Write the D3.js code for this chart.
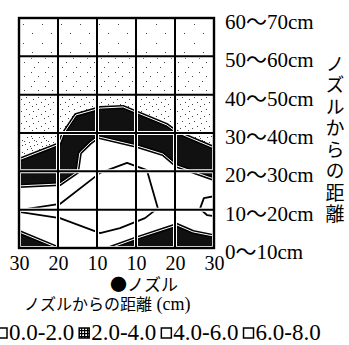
<!DOCTYPE html>
<html><head><meta charset="utf-8">
<script src="https://cdn.jsdelivr.net/npm/d3@7"></script>
<style>
html,body{margin:0;padding:0;background:#fff;}
svg{display:block;}
</style></head><body>
<svg id="chart" width="349" height="345"></svg>
<script>
// axis tick labels
const xTickLabels = ["30", "20", "10", "10", "20", "30"];
const yTickLabels = ["0～10cm", "10～20cm", "20～30cm", "30～40cm", "40～50cm", "50～60cm", "60～70cm"];
const legendLabels = ["0.0-2.0", "2.0-4.0", "4.0-6.0", "6.0-8.0"];
const nozzleLabel = "●ノズル";
const xTitle = "ノズルからの距離";
const xTitleUnit = " (cm)";
const yTitle = "ノズルからの距離";

// contour boundaries as [column, row] in grid units
const band24Top = [[0, 2.30], [1.03, 2.71], [1.13, 2.97], [1.46, 3.47], [2.08, 3.65], [2.67, 3.68], [3.10, 3.50], [3.79, 3.21], [4.03, 3.03], [5, 2.61]];
const band24Bottom = [[5, 1.80], [4.05, 2.14], [3.69, 2.45], [3.03, 2.66], [2.03, 2.90], [1.82, 2.74], [1.56, 2.48], [1.49, 1.98], [1.05, 1.67], [0, 1.62]];
const core68 = [[0, 0.99], [1.05, 1.15], [2.08, 1.96], [2.77, 2.22], [3.28, 2.03], [3.56, 1.04], [3.23, 0.78], [2.59, 0.52], [2.08, 0.39], [1.05, 0.78], [0, 0.94]];
const edge68 = [[5, 1.35], [4.74, 1.30], [4.64, 1.02], [4.82, 0.86], [5, 0.83]];
const floor24Left = [[0, 0.42], [1.0, 0], [0, 0]];
const floor24Right = [[2.33, 0], [3.03, 0.26], [4.05, 0.60], [4.46, 0.42], [5, 0.31], [5, 0]];

const svg = d3.select("#chart");
const serif = "'Liberation Serif','Times New Roman','Noto Sans CJK JP',serif";
const cjk = "'Noto Sans CJK JP',sans-serif";

const x = d3.scaleLinear().domain([0, 5]).range([19, 214]);
const y = d3.scaleLinear().domain([0, 6]).range([248, 18]);
const line = d3.line().x(d => x(d[0])).y(d => y(d[1]));
const area = d3.line().x(d => x(d[0])).y(d => y(d[1])).curve(d3.curveLinearClosed);

const defs = svg.append("defs");

// stipple textures of rising density toward the band
const stippleLevels = [
  {id: "st0", size: 19, dots: [[4, 5], [13, 14]], rows: [5, 6]},
  {id: "st1", size: 14, dots: [[3, 2], [10, 6], [6, 11]], rows: [4, 5]},
  {id: "st2", size: 12, dots: [[2, 1], [9, 3], [5, 6], [0, 8], [8, 10]], rows: [3, 4]},
  {id: "st3", size: 12, dots: [[1, 0], [6, 2], [10, 1], [3, 5], [8, 6], [0, 9], [5, 10], [10, 8], [7, 4]], rows: [0, 3]}
];
stippleLevels.forEach(s => {
  const p = defs.append("pattern").attr("id", s.id).attr("patternUnits", "userSpaceOnUse")
    .attr("width", s.size).attr("height", s.size);
  p.selectAll("rect").data(s.dots).join("rect")
    .attr("x", d => d[0]).attr("y", d => d[1]).attr("width", 1).attr("height", 1).attr("fill", "#444");
  defs.append("clipPath").attr("id", "c" + s.id).append("rect")
    .attr("x", x(0)).attr("y", y(s.rows[1])).attr("width", x(5) - x(0)).attr("height", y(s.rows[0]) - y(s.rows[1]));
});

// legend grid swatch
const hp = defs.append("pattern").attr("id", "grid24").attr("patternUnits", "userSpaceOnUse")
  .attr("width", 3).attr("height", 3);
hp.append("rect").attr("width", 3).attr("height", 3).attr("fill", "#fff");
hp.append("rect").attr("width", 3).attr("height", 1.2).attr("fill", "#000");
hp.append("rect").attr("width", 1.2).attr("height", 3).attr("fill", "#000");

// 0.0-2.0 zone: everything above the upper band
const outerZone = [[0, 6], [5, 6], ...band24Top.slice().reverse()];
stippleLevels.forEach(s => {
  svg.append("path").attr("d", area(outerZone)).attr("fill", `url(#${s.id})`)
    .attr("clip-path", `url(#c${s.id})`);
});

// 2.0-4.0 zones
const band = [...band24Top, ...band24Bottom];
const fills24 = [band, floor24Left, floor24Right];
svg.selectAll("path.f24").data(fills24).join("path").attr("class", "f24")
  .attr("d", area).attr("fill", "#111");

// band edges: dark rule with a thin light core
const edges24 = [band24Top, band24Bottom, floor24Left.slice(0, 2), floor24Right.slice(0, 5)];
svg.selectAll("path.e24a").data(edges24).join("path").attr("class", "e24a")
  .attr("d", line).attr("fill", "none").attr("stroke", "#000").attr("stroke-width", 4);
svg.selectAll("path.e24b").data(edges24).join("path").attr("class", "e24b")
  .attr("d", line).attr("fill", "none").attr("stroke", "#fff").attr("stroke-width", 1);

// 6.0-8.0 outlines
svg.selectAll("path.c68").data([core68, edge68]).join("path").attr("class", "c68")
  .attr("d", line).attr("fill", "none").attr("stroke", "#000").attr("stroke-width", 1.8)
  .attr("stroke-linejoin", "round");

// grid
const grid = svg.append("g");
const vLines = d3.range(6), hLines = d3.range(7);
["#fff", "#000"].forEach((c, i) => {
  const w = i ? 2 : 4;
  grid.append("g").selectAll("line").data(vLines).join("line")
    .attr("x1", d => x(d)).attr("x2", d => x(d)).attr("y1", y(6)).attr("y2", y(0))
    .attr("stroke", c).attr("stroke-width", w);
  grid.append("g").selectAll("line").data(hLines).join("line")
    .attr("x1", x(0)).attr("x2", x(5)).attr("y1", d => y(d)).attr("y2", d => y(d))
    .attr("stroke", c).attr("stroke-width", w);
});
svg.append("rect").attr("x", x(0)).attr("y", y(6)).attr("width", x(5) - x(0)).attr("height", y(0) - y(6))
  .attr("fill", "none").attr("stroke", "#000").attr("stroke-width", 2.4);

// axes
const xAxis = svg.append("g").attr("transform", `translate(0,${y(0)})`)
  .call(d3.axisBottom(x).tickValues(d3.range(6)).tickFormat(i => xTickLabels[i]).tickSize(0).tickPadding(8));
xAxis.select(".domain").remove();
xAxis.selectAll("text").attr("font-family", serif).attr("font-size", 20).attr("fill", "#000");

const yAxis = svg.append("g").attr("transform", `translate(${x(5)},0)`)
  .call(d3.axisRight(y).tickValues(d3.range(7)).tickFormat(i => yTickLabels[i]).tickSize(0).tickPadding(11));
yAxis.select(".domain").remove();
yAxis.selectAll("text").attr("font-family", serif).attr("font-size", 21).attr("fill", "#000").attr("dy", "0.5em");

// vertical axis title
svg.append("text").attr("x", 335).attr("y", 54)
  .style("writing-mode", "vertical-rl").attr("letter-spacing", 2.5)
  .attr("font-family", cjk).attr("font-size", 19).text(yTitle);

// nozzle marker and horizontal title
svg.append("text").attr("x", 110).attr("y", 291).attr("font-family", cjk).attr("font-size", 17).text(nozzleLabel);
const xt = svg.append("text").attr("x", 24).attr("y", 310);
xt.append("tspan").attr("font-family", cjk).attr("font-size", 16).text(xTitle);
xt.append("tspan").attr("font-family", serif).attr("font-size", 18).text(xTitleUnit);

// legend
const swatchFill = ["#fff", "url(#grid24)", "#fff", "#fff"];
let lx = -3;
legendLabels.forEach((lab, i) => {
  svg.append("rect").attr("x", lx).attr("y", 328).attr("width", 10).attr("height", 10)
    .attr("fill", swatchFill[i]).attr("stroke", "#000").attr("stroke-width", 1.5);
  const t = svg.append("text").attr("x", lx + 12).attr("y", 340)
    .attr("font-family", serif).attr("font-size", 23).text(lab);
  lx = lx + 12 + t.node().getComputedTextLength() + 5;
});
</script>
</body></html>
